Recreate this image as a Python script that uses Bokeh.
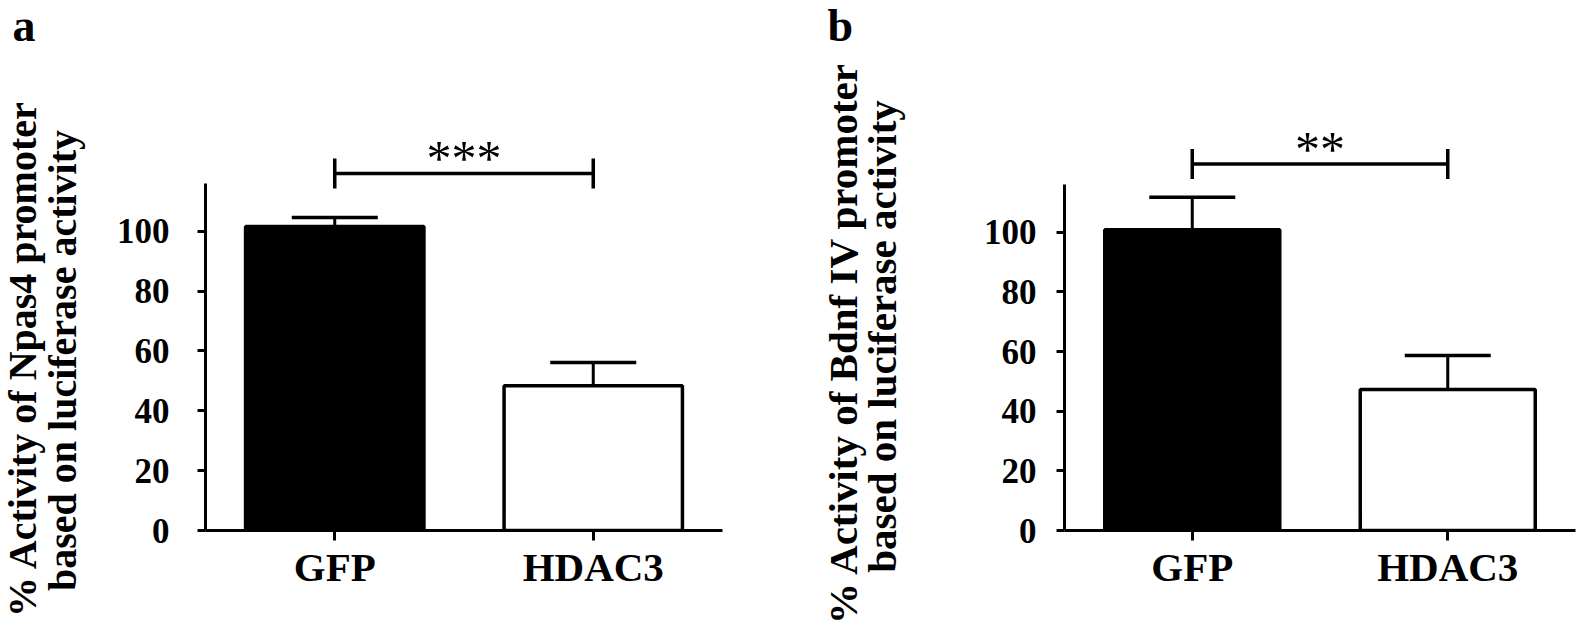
import math
from bokeh.plotting import figure
from bokeh.layouts import row
from bokeh.models import (ColumnDataSource, FactorRange, Range1d, FixedTicker,
                          Whisker, TeeHead, Plot)
from bokeh.core.properties import value
from bokeh.embed import file_html
from bokeh.resources import INLINE

# ---- data ----
categories = ["GFP", "HDAC3"]
npas4_mean = [101.6, 48.4]
npas4_sem = [3.0, 7.7]
bdnf_mean = [100.8, 47.3]
bdnf_sem = [10.9, 11.4]
sig_a = {"label": "***", "y": 119.3}
sig_b = {"label": "**", "y": 122.9}
y_ticks = [0, 20, 40, 60, 80, 100]
ylabel_a = ["% Activity of Npas4 promoter", "based on luciferase activity"]
ylabel_b = ["% Activity of Bdnf IV promoter", "based on luciferase activity"]

FONT = "Liberation Serif"
FIG_H = 625
BORDER_TOP = 100
BORDER_BOTTOM = FIG_H - 530
FRAME_H = FIG_H - BORDER_TOP - BORDER_BOTTOM

NO_ALIGN = {"frame_align": False} if "frame_align" in Plot.properties() else {}


def label_strip(width, letter, letter_xy, lines, line_xy, font_px):
    """Narrow strip holding the rotated y-axis title and the panel letter.
    Its data coordinates equal its pixel coordinates (y pointing down)."""
    s = figure(x_range=Range1d(0, width), y_range=Range1d(FIG_H, 0),
               width=width, height=FIG_H, output_backend="svg",
               toolbar_location=None, tools="", x_axis_type=None,
               y_axis_type=None, min_border=0, **NO_ALIGN)
    s.title.visible = False
    s.outline_line_color = None
    s.grid.visible = False
    s.text(x=[xy[0] for xy in line_xy], y=[xy[1] for xy in line_xy], text=lines,
           angle=math.pi / 2, text_align="center", text_baseline="middle",
           text_font=value(FONT), text_font_style="bold",
           text_font_size=f"{font_px}px", text_color="black")
    s.text(x=[letter_xy[0]], y=[letter_xy[1]], text=[letter],
           text_align="left", text_baseline="middle",
           text_font=value(FONT), text_font_style="bold",
           text_font_size="46px", text_color="black")
    return s


def make_panel(means, sems, sig, width, left, right, px_per_unit, bar_w,
               standoff):
    ys = px_per_unit
    fill = ["black", "white"]
    src = ColumnDataSource(dict(x=categories, top=means,
                                upper=[m + s for m, s in zip(means, sems)],
                                lower=means, fill=fill))
    p = figure(x_range=FactorRange(*categories, range_padding=0),
               y_range=Range1d(0, FRAME_H / ys),
               width=width, height=FIG_H, output_backend="svg",
               toolbar_location=None, tools="",
               min_border_left=left, min_border_right=right,
               min_border_top=BORDER_TOP, min_border_bottom=BORDER_BOTTOM,
               **NO_ALIGN)
    p.title.visible = False
    p.outline_line_color = None
    p.grid.visible = False
    p.background_fill_color = "white"
    p.border_fill_color = "white"

    p.vbar(x="x", top="top", bottom=0, width=bar_w, source=src,
           fill_color="fill", line_color="black", line_width=3.5)

    p.add_layout(Whisker(source=src, base="x", upper="upper", lower="lower",
                         dimension="height", line_color="black", line_width=3,
                         upper_head=TeeHead(size=86, line_color="black", line_width=3.5),
                         lower_head=None))

    # significance bracket
    p.segment(x0=[categories[0]], x1=[categories[1]], y0=[sig["y"]], y1=[sig["y"]],
              line_color="black", line_width=3.5)
    p.scatter(x=categories, y=[sig["y"]] * 2, marker="dash", size=30,
              angle=math.pi / 2, line_color="black", line_width=3.5)
    p.text(x=[1.0], y=[sig["y"] + 15 / ys], text=[sig["label"]], text_align="center",
           text_baseline="alphabetic", text_font=value(FONT),
           text_font_size="50px", text_color="black")

    # axes
    p.yaxis.bounds = (0, 116)
    p.yaxis.ticker = FixedTicker(ticks=y_ticks)
    p.yaxis.minor_tick_line_color = None
    p.yaxis.major_tick_in = 0
    p.yaxis.major_tick_out = 8
    p.yaxis.major_label_standoff = standoff
    for ax in (p.xaxis, p.yaxis):
        ax.axis_line_width = 3
        ax.axis_line_color = "black"
        ax.major_tick_line_width = 3
        ax.major_tick_line_color = "black"
        ax.major_label_text_font = FONT
        ax.major_label_text_font_style = "bold"
        ax.major_label_text_color = "black"
    p.yaxis.major_label_text_font_size = "35px"
    p.xaxis.major_tick_in = 0
    p.xaxis.major_tick_out = 10
    p.xaxis.major_label_standoff = 3
    p.xaxis.major_label_text_font_size = "41px"
    return p


la = label_strip(90, "a", (12, 25), ylabel_a, [(22, 358), (62, 360)], 40)
pa = make_panel(npas4_mean, npas4_sem, sig_a,
                width=710, left=115, right=78, px_per_unit=2.993, bar_w=0.69,
                standoff=28)
lb = label_strip(110, "b", (27, 25), ylabel_b, [(42, 342), (81, 336)], 41)
pb = make_panel(bdnf_mean, bdnf_sem, sig_b,
                width=667, left=154, right=2, px_per_unit=2.983, bar_w=0.685,
                standoff=20)

layout = row(la, pa, lb, pb)
open("out.html", "w").write(file_html(layout, INLINE))
